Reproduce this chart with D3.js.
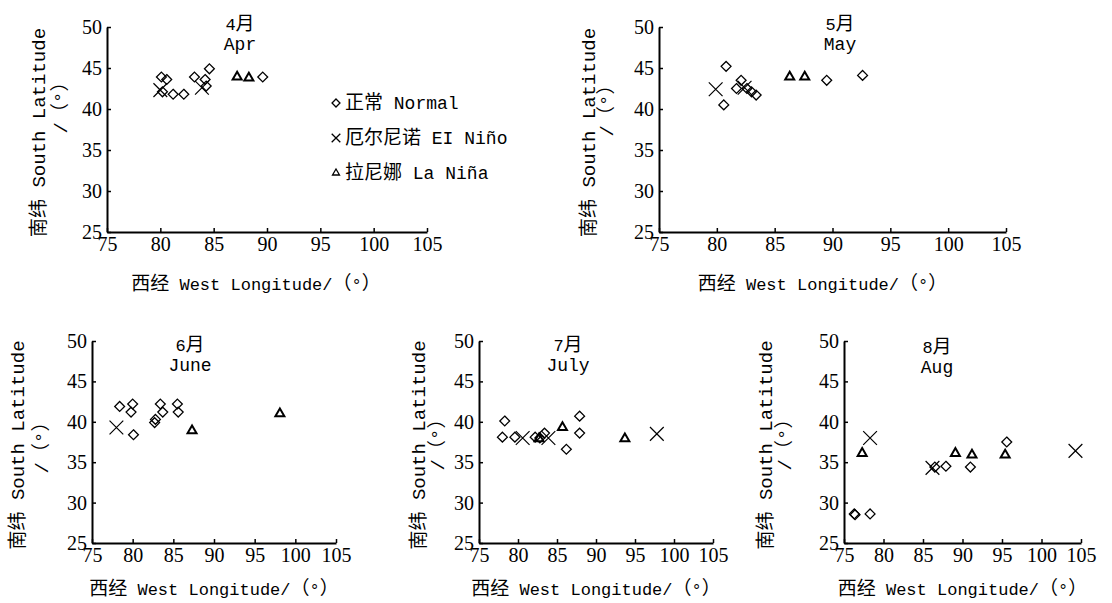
<!DOCTYPE html>
<html>
<head>
<meta charset="utf-8">
<script src="https://cdn.jsdelivr.net/npm/d3@7"></script>
<style>
  body { margin: 0; background: #fff; }
  svg text { fill: #000; text-spacing-trim: space-all; }
  .tick text { font-family: "Liberation Serif", "DejaVu Serif", serif; font-size: 20px; }
  .lbl { font-family: "Liberation Mono", "Noto Sans CJK SC", monospace; font-size: 17px; }
  .cjk { font-family: "Noto Sans CJK SC", sans-serif; font-size: 19px; }
</style>
</head>
<body>
<script>
// ticks
const xTicks = [75, 80, 85, 90, 95, 100, 105];
const yTicks = [25, 30, 35, 40, 45, 50];

// [west longitude, south latitude]
const aprNormal = [[80.1, 43.9], [80.6, 43.6], [80.2, 42.1], [81.2, 41.8], [82.2, 41.8], [83.2, 43.9], [84.2, 43.6], [84.6, 44.9], [84.3, 42.8], [89.6, 43.9]];
const aprElNino = [[80.0, 42.3], [83.9, 42.6]];
const aprLaNina = [[87.2, 43.9], [88.3, 43.8]];

const mayNormal = [[80.8, 45.2], [80.6, 40.5], [81.7, 42.5], [82.1, 43.5], [82.6, 42.5], [83.0, 42.1], [83.4, 41.7], [89.5, 43.5], [92.6, 44.1]];
const mayElNino = [[79.9, 42.4], [82.4, 42.6]];
const mayLaNina = [[86.3, 43.9], [87.6, 43.9]];

const junNormal = [[78.4, 41.9], [80.0, 42.2], [79.8, 41.2], [80.1, 38.4], [83.4, 42.2], [83.7, 41.2], [82.8, 40.3], [82.7, 39.9], [85.5, 42.2], [85.6, 41.2]];
const junElNino = [[78.0, 39.3]];
const junLaNina = [[87.3, 38.9], [98.1, 41.0]];

const julNormal = [[78.3, 40.1], [78.0, 38.1], [79.6, 38.1], [82.2, 38.1], [83.4, 38.6], [86.2, 36.6], [87.9, 40.7], [87.9, 38.6], [82.8, 38.0]];
const julElNino = [[80.6, 38.0], [83.9, 38.0], [97.8, 38.5]];
const julLaNina = [[82.7, 37.9], [85.7, 39.3], [93.7, 37.9]];

const augNormal = [[76.3, 28.6], [76.4, 28.5], [78.3, 28.6], [86.5, 34.4], [87.9, 34.5], [91.0, 34.4], [95.6, 37.5]];
const augElNino = [[78.3, 38.0], [86.2, 34.3], [104.3, 36.4]];
const augLaNina = [[77.3, 36.1], [89.1, 36.1], [91.2, 35.9], [95.4, 35.9]];

const months = ["4月", "5月", "6月", "7月", "8月"];
const monthsEn = ["Apr", "May", "June", "July", "Aug"];
const legendLabels = ["正常 Normal", "厄尔尼诺 EI Niño", "拉尼娜 La Niña"];

const xTitle = "西经 West Longitude/（°）";
const yTitle1 = "南纬 South Latitude";
const yTitle2 = "/（°）";

// layout of the five panels (axis box, title, axis-title offsets)
const panels = [
  { x0: 107, x1: 427, y0: 232, y1: 27, tx: 240, ty: 30, lx: -11, ly: 58, a: -69, b: -47, by: 103, normal: aprNormal, nino: aprElNino, nina: aprLaNina },
  { x0: 659, x1: 1006, y0: 232, y1: 27, tx: 840, ty: 30, lx: -10, ly: 58, a: -71, b: -53, by: 106, normal: mayNormal, nino: mayElNino, nina: mayLaNina },
  { x0: 92, x1: 336, y0: 543, y1: 341, tx: 190, ty: 351, lx: 0, ly: 52, a: -75, b: -51, by: 443, normal: junNormal, nino: junElNino, nina: junLaNina },
  { x0: 479, x1: 713, y0: 543, y1: 341, tx: 568, ty: 351, lx: 0, ly: 52, a: -61, b: -42, by: 440, normal: julNormal, nino: julElNino, nina: julLaNina },
  { x0: 844, x1: 1081, y0: 543, y1: 341, tx: 937, ty: 353, lx: 0, ly: 52, a: -79, b: -60, by: 440, normal: augNormal, nino: augElNino, nina: augLaNina }
];

const svg = d3.select("body").append("svg")
  .attr("width", 1112)
  .attr("height", 603);

// chinese runs get a bigger size, like the wide song-style glyphs in the source
function mixedText(sel, str) {
  str.split(/([\u3000-\u9fff\uff00-\uffef]+)/).filter(s => s.length).forEach(s => {
    const cjk = /[\u3000-\u9fff\uff00-\uffef]/.test(s);
    sel.append("tspan").attr("class", cjk ? "cjk" : null).text(s);
  });
  return sel;
}

const diamond = d3.symbol().type(d3.symbolDiamond2).size(62);
const triangle = d3.symbol().type(d3.symbolTriangle2).size(58);
const cross = d3.symbol().type(d3.symbolTimes).size(125);

function drawMarks(g, data, sym, x, y, sw) {
  g.append("g").selectAll("path")
    .data(data)
    .enter()
    .append("path")
    .attr("d", sym)
    .attr("transform", d => `translate(${x(d[0])},${y(d[1])})`)
    .attr("fill", "none")
    .attr("stroke", "#000")
    .attr("stroke-width", sw);
}

panels.forEach((p, i) => {
  const x = d3.scaleLinear().domain([75, 105]).range([p.x0, p.x1]);
  const y = d3.scaleLinear().domain([25, 50]).range([p.y0, p.y1]);
  const g = svg.append("g");

  const xAxis = g.append("g")
    .attr("transform", `translate(0,${p.y0})`)
    .call(d3.axisBottom(x).tickValues(xTicks).tickSizeInner(-4).tickSizeOuter(0).tickPadding(5));
  const yAxis = g.append("g")
    .attr("transform", `translate(${p.x0},0)`)
    .call(d3.axisLeft(y).tickValues(yTicks).tickSizeInner(-4).tickSizeOuter(0).tickPadding(5));
  [xAxis, yAxis].forEach(a => {
    a.select(".domain").attr("stroke-width", 2);
    a.selectAll(".tick line").attr("stroke-width", 1.5);
  });

  // month titles
  g.append("text").attr("class", "lbl").attr("text-anchor", "middle")
    .attr("x", p.tx).attr("y", p.ty).call(mixedText, months[i]);
  g.append("text").attr("class", "lbl").attr("text-anchor", "middle")
    .style("font-size", "18px")
    .attr("x", p.tx).attr("y", p.ty + 20).text(monthsEn[i]);

  // axis titles
  g.append("text").attr("class", "lbl").attr("text-anchor", "middle")
    .attr("x", (p.x0 + p.x1) / 2 + p.lx).attr("y", p.y0 + p.ly).call(mixedText, xTitle);
  const yc = (p.y0 + p.y1) / 2 + 3;
  g.append("text").attr("class", "lbl").attr("text-anchor", "middle")
    .style("font-size", "19px")
    .attr("transform", `translate(${p.x0 + p.a + 7},${yc}) rotate(-90)`).call(mixedText, yTitle1);
  g.append("text").attr("class", "lbl").attr("text-anchor", "middle")
    .style("font-size", "19px")
    .attr("transform", `translate(${p.x0 + p.b + 7},${p.by}) rotate(-90)`).call(mixedText, yTitle2);

  drawMarks(g, p.normal, diamond, x, y, 1.3);
  drawMarks(g, p.nino, cross, x, y, 1.2);
  drawMarks(g, p.nina, triangle, x, y, 2);
});

// legend
const legend = svg.append("g").attr("transform", "translate(336,103)");
const legendSyms = [d3.symbol().type(d3.symbolDiamond2).size(40), d3.symbol().type(d3.symbolTimes).size(50), d3.symbol().type(d3.symbolTriangle2).size(35)];
legendLabels.forEach((t, i) => {
  legend.append("path").attr("d", legendSyms[i]())
    .attr("transform", `translate(0,${i * 35})`)
    .attr("fill", "none").attr("stroke", "#000").attr("stroke-width", 1.3);
  legend.append("text").attr("class", "lbl").style("font-size", "18px")
    .attr("x", 9).attr("y", i * 35 + 6).call(mixedText, t);
});
</script>
</body>
</html>
